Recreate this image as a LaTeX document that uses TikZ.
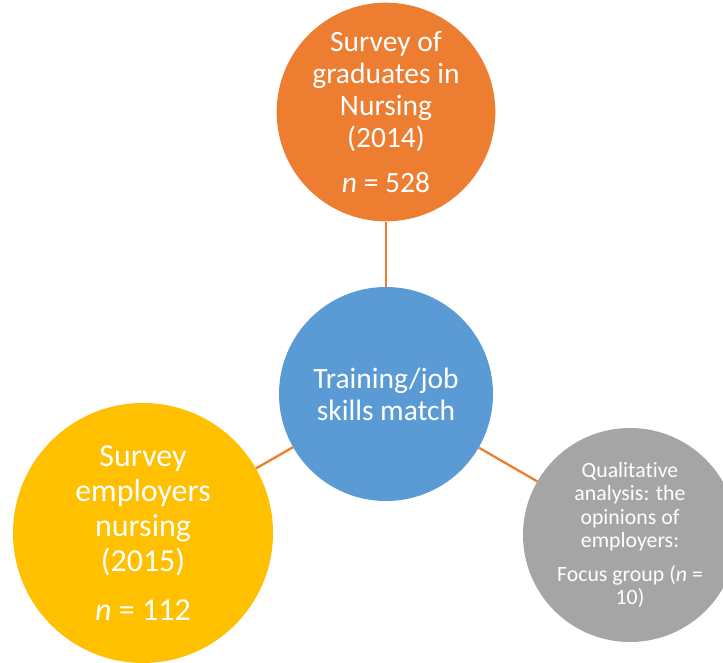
\documentclass[tikz,border=0pt]{standalone}
\usepackage{fontspec}
\setmainfont[Ligatures=NoCommon]{Carlito}
\definecolor{offorange}{HTML}{ED7D31}
\definecolor{offblue}{HTML}{5B9BD5}
\definecolor{offgold}{HTML}{FFC000}
\definecolor{offgray}{HTML}{A5A5A5}
\begin{document}
\begin{tikzpicture}[x=1pt,y=-1pt,
  bubble/.style={circle, inner sep=0pt, text=white, align=center},
  link/.style={draw=offorange, line width=2.3pt}]
  \useasboundingbox (0,0) rectangle (723,663);
  \clip (0,0) rectangle (723,663);
  \fill[white] (0,0) rectangle (723,663);

  % hub
  \node[bubble, fill=offblue, minimum size=214pt,
        font=\fontsize{29.5}{32}\selectfont] (hub) at (386,394)
    {Training/job\\skills match};

  % graduate survey
  \node[bubble, fill=offorange, minimum size=212pt,
        font=\fontsize{29.5}{32}\selectfont] (grad) at (386,112)
    {Survey of\\graduates in\\Nursing\\(2014)\\[13pt]\textit{n} = 528};

  % employer survey
  \node[bubble, fill=offgold, minimum size=260pt,
        font=\fontsize{32}{35}\selectfont] (empl) at (143,533)
    {Survey\\employers\\nursing\\(2015)\\[14pt]\textit{n} = 112};

  % focus group
  \node[bubble, fill=offgray, minimum size=214pt,
        font=\fontsize{21.8}{23.5}\selectfont] (focus) at (630,535)
    {Qualitative\\analysis: the\\opinions of\\employers:\\[10pt]Focus group (\textit{n} =\\10)};

  \draw[link] (hub) -- (grad);
  \draw[link] (hub) -- (empl);
  \draw[link] (hub) -- (focus);
\end{tikzpicture}
\end{document}
